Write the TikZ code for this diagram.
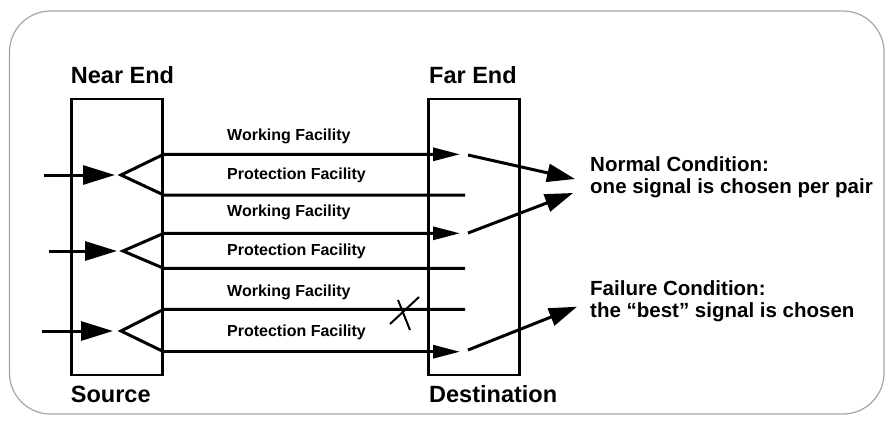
\documentclass[tikz,border=0pt]{standalone}
\usepackage{fontspec}
\setmainfont{Liberation Sans}
\usepackage{tikz}
\usetikzlibrary{arrows.meta,positioning}

\begin{document}
\begin{tikzpicture}
[x=1pt,y=-1pt,
endbox/.style={draw,line width=2.4pt,inner sep=0pt,minimum width=91pt,minimum height=276pt},
endlabel/.style={anchor=base west,inner sep=0pt,font=\fontsize{23.5}{27}\selectfont\bfseries},
facility/.style={line width=3pt,line join=miter},
faclabel/.style={anchor=base west,inner sep=0pt,font=\fontsize{16}{19}\selectfont\bfseries},
condlabel/.style={anchor=base west,inner sep=0pt,align=left,font=\fontsize{20.5}{22}\selectfont\bfseries},
intip/.style={-{Triangle[length=32pt,width=19pt]}},
outtip/.style={-{Triangle[length=28pt,width=18pt]}},
chosen/.style={{Triangle[length=27pt,width=13pt]}-}]
\useasboundingbox (0,0) rectangle (890,424);
\draw[draw=black!35,line width=1.2pt,rounded corners=41pt] (9.5,11) rectangle (884,414);

% the two ends
\node[endbox] at (117,237) (near) {};
\node[endbox] at (474,237) (far)  {};
\node[endlabel] at (70.7,83)  (nearlbl) {Near End};
\node[endlabel] at (429,83)   (farlbl)  {Far End};
\node[endlabel] at (70.7,402) (srclbl)  {Source};
\node[endlabel] at (429,402)  (dstlbl)  {Destination};

% bridge points and facility ends
\coordinate (in1) at (44,175);  \coordinate (br1) at (121,175);
\coordinate (in2) at (49,251);  \coordinate (br2) at (123,251);
\coordinate (in3) at (42,331);  \coordinate (br3) at (121,331);
\coordinate (wk1s) at (near.east |- 0,154.3); \coordinate (wk1e) at (460,154.3);
\coordinate (pr1s) at (near.east |- 0,195);   \coordinate (pr1e) at (465,195);
\coordinate (wk2s) at (near.east |- 0,233.3); \coordinate (wk2e) at (460,233.3);
\coordinate (pr2s) at (near.east |- 0,268.3); \coordinate (pr2e) at (465,268.3);
\coordinate (wk3s) at (near.east |- 0,309.3); \coordinate (wk3e) at (465,309.3);
\coordinate (pr3s) at (near.east |- 0,351.7); \coordinate (pr3e) at (460,351.7);

% incoming signals
\draw[facility,intip,shorten >=6pt] (in1) -- (br1);
\draw[facility,intip,shorten >=6pt] (in2) -- (br2);
\draw[facility,intip,shorten >=8pt] (in3) -- (br3);

% bridged facilities
\draw[facility,chosen] (wk1e) -- (wk1s) -- (br1) -- (pr1s) -- (pr1e);
\draw[facility,chosen] (wk2e) -- (wk2s) -- (br2) -- (pr2s) -- (pr2e);
\draw[facility] (wk3e) -- (wk3s) -- (br3) -- (pr3s);
\draw[facility,-{Triangle[length=27pt,width=13pt]}] (pr3s) -- (pr3e);

\node[faclabel] at (227,140.8) (wk1lbl) {Working Facility};
\node[faclabel] at (227,179)   (pr1lbl) {Protection Facility};
\node[faclabel] at (227,216.8) (wk2lbl) {Working Facility};
\node[faclabel] at (227,255)   (pr2lbl) {Protection Facility};
\node[faclabel] at (227,296.5) (wk3lbl) {Working Facility};
\node[faclabel] at (227,336.5) (pr3lbl) {Protection Facility};

% failure on working facility 3
\coordinate (xa) at (419,297); \coordinate (xb) at (390,324);
\coordinate (xc) at (398,300); \coordinate (xd) at (410,330);
\draw[line width=2pt] (xa) -- (xb) (xc) -- (xd);

% selector outputs
\node[condlabel] at (590,193) (normal)  {Normal Condition:\\one signal is chosen per pair};
\node[condlabel] at (590,317) (failure) {Failure Condition:\\the “best” signal is chosen};
\coordinate (sel1) at (468,155); \coordinate (to1) at (575,179);
\coordinate (sel2) at (468,233); \coordinate (to2) at (573,193);
\coordinate (sel3) at (468,350); \coordinate (to3) at (577,306.7);
\draw[facility,outtip] (sel1) -- (to1);
\draw[facility,outtip] (sel2) -- (to2);
\draw[facility,outtip] (sel3) -- (to3);
\end{tikzpicture}
\end{document}
